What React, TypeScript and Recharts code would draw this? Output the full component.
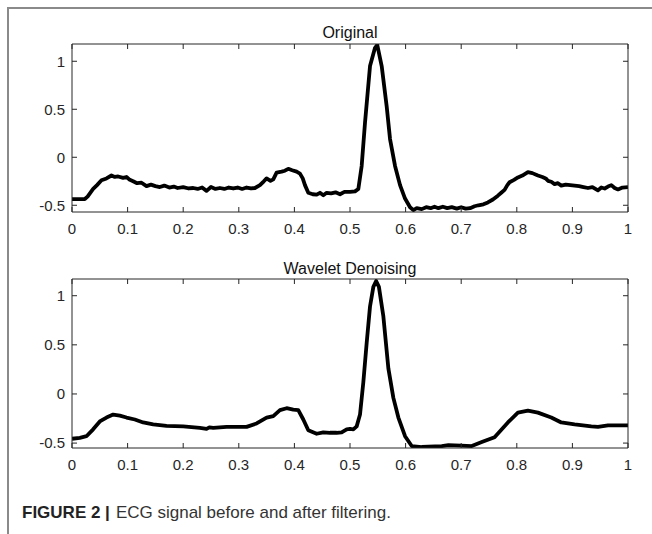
import React from 'react';
import { LineChart, Line, XAxis, YAxis } from 'recharts';

const xTicks = [0, 0.1, 0.2, 0.3, 0.4, 0.5, 0.6, 0.7, 0.8, 0.9, 1];
const yTicks = [-0.5, 0, 0.5, 1];

const originalTime = [
  0, 0.023, 0.028, 0.038, 0.045, 0.053, 0.062, 0.071, 0.077, 0.083, 0.092, 0.098, 0.104, 0.11, 0.117, 0.125,
  0.134, 0.142, 0.15, 0.158, 0.166, 0.175, 0.183, 0.19, 0.2, 0.21, 0.218, 0.226, 0.234, 0.242, 0.25, 0.258,
  0.266, 0.274, 0.282, 0.29, 0.298, 0.306, 0.314, 0.322, 0.329, 0.338, 0.345, 0.35, 0.357, 0.362, 0.368, 0.377,
  0.383, 0.389, 0.396, 0.404, 0.41, 0.415, 0.419, 0.425, 0.433, 0.44, 0.446, 0.452, 0.458, 0.466, 0.474, 0.482,
  0.49, 0.5, 0.509, 0.515, 0.521, 0.527, 0.536, 0.545, 0.549, 0.557, 0.566, 0.572, 0.581, 0.59, 0.599, 0.608,
  0.614, 0.62, 0.629, 0.637, 0.645, 0.652, 0.659, 0.667, 0.675, 0.683, 0.692, 0.7, 0.708, 0.716, 0.724, 0.731,
  0.74, 0.748, 0.757, 0.766, 0.772, 0.778, 0.783, 0.787, 0.795, 0.802, 0.81, 0.82, 0.828, 0.838, 0.846, 0.852,
  0.856, 0.862, 0.868, 0.874, 0.88, 0.888, 0.896, 0.904, 0.912, 0.92, 0.928, 0.936, 0.946, 0.952, 0.958, 0.964,
  0.97, 0.976, 0.982, 0.99, 1.0,
];
const originalValue = [
  -0.435, -0.435, -0.41, -0.33, -0.29, -0.24, -0.22, -0.19, -0.205, -0.2, -0.215, -0.205, -0.235, -0.25, -0.27, -0.265,
  -0.3, -0.285, -0.3, -0.31, -0.295, -0.315, -0.305, -0.32, -0.31, -0.325, -0.32, -0.33, -0.315, -0.35, -0.31, -0.33,
  -0.32, -0.33, -0.315, -0.325, -0.315, -0.33, -0.315, -0.325, -0.32, -0.29, -0.25, -0.22, -0.245, -0.23, -0.16, -0.15,
  -0.14, -0.12, -0.135, -0.15, -0.17, -0.22, -0.29, -0.37, -0.385, -0.39, -0.37, -0.395, -0.37, -0.375, -0.365, -0.385,
  -0.36, -0.36, -0.355, -0.33, -0.09, 0.36, 0.95, 1.14, 1.17, 0.95, 0.53, 0.19, -0.09, -0.29, -0.43, -0.52,
  -0.55, -0.53, -0.54, -0.52, -0.53, -0.515, -0.53, -0.515, -0.53, -0.52, -0.535, -0.52, -0.535, -0.53, -0.51, -0.5,
  -0.49, -0.47, -0.44, -0.4, -0.37, -0.34, -0.29, -0.26, -0.235, -0.21, -0.19, -0.155, -0.165, -0.19, -0.205, -0.22,
  -0.245, -0.255, -0.28, -0.27, -0.295, -0.285, -0.29, -0.295, -0.3, -0.31, -0.32, -0.31, -0.345, -0.315, -0.325, -0.305,
  -0.29, -0.32, -0.335, -0.315, -0.31,
];

const denoisedTime = [
  0, 0.014, 0.026, 0.038, 0.05, 0.062, 0.074, 0.086, 0.098, 0.113, 0.128, 0.146, 0.17, 0.2, 0.23, 0.242,
  0.247, 0.254, 0.278, 0.314, 0.332, 0.35, 0.362, 0.374, 0.386, 0.398, 0.407, 0.416, 0.425, 0.44, 0.452, 0.464,
  0.476, 0.485, 0.494, 0.5, 0.506, 0.512, 0.518, 0.524, 0.53, 0.536, 0.542, 0.547, 0.552, 0.56, 0.569, 0.578,
  0.587, 0.599, 0.611, 0.629, 0.665, 0.677, 0.7, 0.719, 0.737, 0.76, 0.784, 0.802, 0.82, 0.838, 0.862, 0.88,
  0.904, 0.934, 0.946, 0.964, 1.0,
];
const denoisedValue = [
  -0.456, -0.446, -0.43, -0.36, -0.28, -0.24, -0.21, -0.22, -0.24, -0.26, -0.29, -0.31, -0.325, -0.33, -0.345, -0.355,
  -0.34, -0.345, -0.335, -0.335, -0.3, -0.24, -0.225, -0.165, -0.145, -0.16, -0.165, -0.26, -0.37, -0.405, -0.39, -0.395,
  -0.395, -0.39, -0.36, -0.355, -0.36, -0.33, -0.21, 0.12, 0.52, 0.89, 1.09, 1.15, 1.09, 0.79, 0.26, -0.04,
  -0.24, -0.43, -0.53, -0.54, -0.53, -0.52, -0.525, -0.53, -0.49, -0.44, -0.29, -0.19, -0.17, -0.19, -0.24, -0.29,
  -0.31, -0.33, -0.335, -0.32, -0.32,
];

const originalData = originalTime.map((t, i) => ({ x: t, y: originalValue[i] }));
const denoisedData = denoisedTime.map((t, i) => ({ x: t, y: denoisedValue[i] }));

const FONT = '"Liberation Sans", Arial, sans-serif';
const AXIS = '#262626';
const tickStyle = { fontSize: 15, fill: AXIS, fontFamily: FONT };
const blank = () => '';

function Panel({ data, domain, marginTop }: { data: { x: number; y: number }[]; domain: [number, number]; marginTop: number }) {
  return (
    <LineChart
      width={652}
      height={240}
      data={data}
      margin={{ top: marginTop - 1, right: 23, bottom: 3, left: 32 }}
      style={{ background: 'transparent' }}
    >
      <XAxis
        xAxisId="b"
        dataKey="x"
        type="number"
        domain={[0, 1]}
        ticks={xTicks}
        allowDataOverflow
        height={25}
        tickSize={-5}
        tickMargin={16}
        stroke={AXIS}
        tick={tickStyle}
        interval={0}
        tickFormatter={(v: number) => String(v)}
      />
      <XAxis
        xAxisId="t"
        dataKey="x"
        type="number"
        orientation="top"
        domain={[0, 1]}
        ticks={xTicks}
        allowDataOverflow
        height={1}
        tickSize={-5}
        stroke={AXIS}
        tick={tickStyle}
        interval={0}
        tickFormatter={blank}
      />
      <YAxis
        yAxisId="l"
        type="number"
        domain={domain}
        ticks={yTicks}
        allowDataOverflow
        width={40}
        tickSize={-5}
        tickMargin={12}
        stroke={AXIS}
        tick={tickStyle}
        interval={0}
        tickFormatter={(v: number) => String(v)}
      />
      <YAxis
        yAxisId="r"
        type="number"
        orientation="right"
        domain={domain}
        ticks={yTicks}
        allowDataOverflow
        width={1}
        tickSize={-5}
        stroke={AXIS}
        tick={tickStyle}
        interval={0}
        tickFormatter={blank}
      />
      <Line
        xAxisId="b"
        yAxisId="l"
        dataKey="y"
        type="linear"
        stroke="#000"
        strokeWidth={3.8}
        strokeLinejoin="round"
        dot={false}
        activeDot={false}
        isAnimationActive={false}
      />
    </LineChart>
  );
}

export default function App() {
  return (
    <div style={{ position: 'absolute', left: 0, top: 0, width: 652, height: 534, background: '#fff', overflow: 'hidden' }}>
      <svg width={652} height={534} style={{ position: 'absolute', left: 0, top: 0 }}>
        <line x1={7} y1={8} x2={652} y2={8} stroke="#8a8a8a" strokeWidth={2} />
        <line x1={8} y1={7} x2={8} y2={534} stroke="#8a8a8a" strokeWidth={2} />
        <text x={350} y={38} textAnchor="middle" fontSize={16} fontFamily={FONT} fill="#111">Original</text>
        <text x={350} y={274} textAnchor="middle" fontSize={16} fontFamily={FONT} fill="#111">Wavelet Denoising</text>
        <text x={22} y={518} fontSize={17} fontFamily={FONT} fill="#222">
          <tspan fontWeight="bold">FIGURE 2 |</tspan>
          <tspan fill="#333" dx={6}>ECG signal before and after filtering.</tspan>
        </text>
      </svg>
      <div style={{ position: 'absolute', left: 0, top: 0 }}>
        <Panel data={originalData} domain={[-0.57, 1.18]} marginTop={44} />
      </div>
      <div style={{ position: 'absolute', left: 0, top: 236 }}>
        <Panel data={denoisedData} domain={[-0.55, 1.17]} marginTop={43} />
      </div>
    </div>
  );
}
